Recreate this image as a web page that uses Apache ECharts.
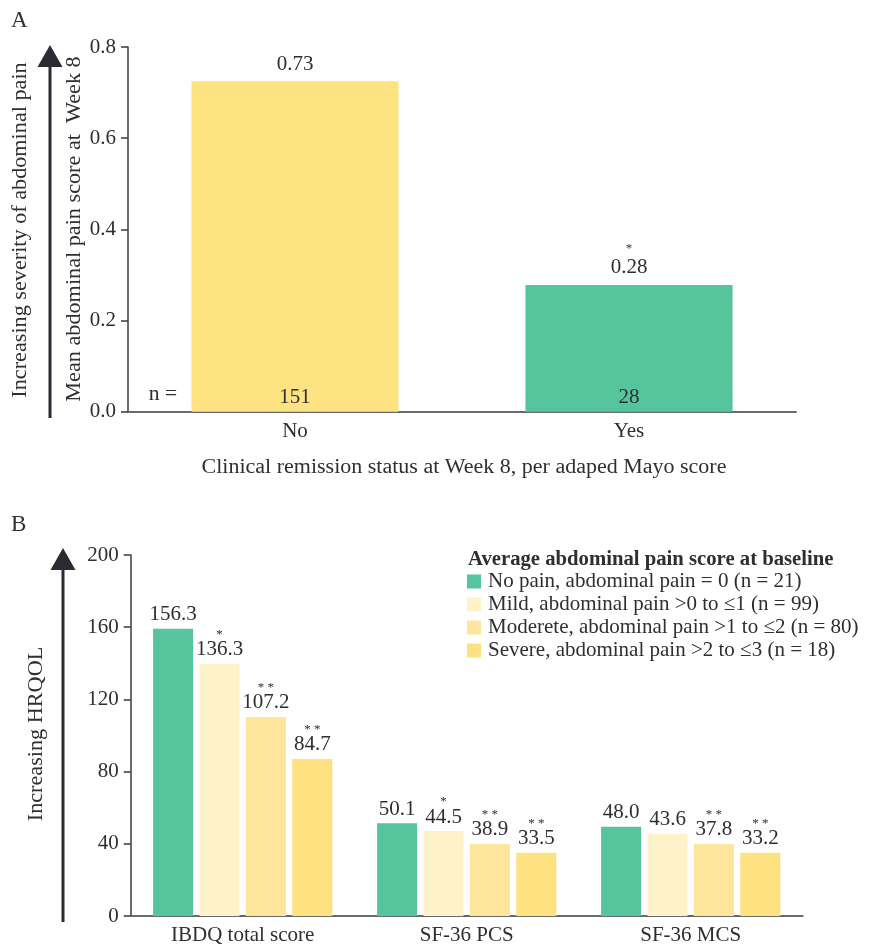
<!DOCTYPE html>
<html><head><meta charset="utf-8">
<script src="https://cdn.jsdelivr.net/npm/echarts@6/dist/echarts.min.js"></script>
<style>html,body{margin:0;padding:0;background:#fff}#c{width:883px;height:946px}</style>
</head><body><div id="c"></div>
<script>
// Panel A data
const remissionCategories = ['No', 'Yes'];
const remissionBarValues = [0.725, 0.278];
const remissionLabels = ['0.73', '0.28'];
const remissionStars = ['', '*'];
const remissionN = ['151', '28'];
const yTicksA = ['0.0', '0.2', '0.4', '0.6', '0.8'];

// Panel B data
const hrqolCategories = ['IBDQ total score', 'SF-36 PCS', 'SF-36 MCS'];
const seriesNames = [
  'No pain, abdominal pain = 0 (n = 21)',
  'Mild, abdominal pain >0 to \u22641 (n = 99)',
  'Moderete, abdominal pain >1 to \u22642 (n = 80)',
  'Severe, abdominal pain >2 to \u22643 (n = 18)'
];
const noPainValues = [159.2, 51.4, 49.5];
const mildValues = [139.7, 47.1, 45.5];
const moderateValues = [110.3, 39.9, 39.9];
const severeValues = [87.0, 35.1, 35.1];
const noPainLabels = ['156.3', '50.1', '48.0'];
const mildLabels = ['136.3', '44.5', '43.6'];
const moderateLabels = ['107.2', '38.9', '37.8'];
const severeLabels = ['84.7', '33.5', '33.2'];
const noPainStars = ['', '', ''];
const mildStars = ['*', '*', ''];
const moderateStars = ['**', '**', '**'];
const severeStars = ['**', '**', '**'];
const yTicksB = ['0', '40', '80', '120', '160', '200'];

const FONT = 'Liberation Serif';
const TXT = '#2e2e33';
const colors = ['#56C49C', '#FEF3C8', '#FDE69B', '#FEE281'];
const colorA = ['#FEE382', '#56C49C'];

const chart = echarts.init(document.getElementById('c'), null, {renderer: 'canvas'});

function starLabel(stars, labels) {
  return function (p) {
    const s = stars[p.dataIndex];
    const v = labels[p.dataIndex];
    return s ? '{s|' + s.split('').join(' ') + '}\n{v|' + v + '}' : '{v|' + v + '}';
  };
}

const bValues = [noPainValues, mildValues, moderateValues, severeValues];
const bLabels = [noPainLabels, mildLabels, moderateLabels, severeLabels];
const bStars = [noPainStars, mildStars, moderateStars, severeStars];

const seriesB = seriesNames.map((name, i) => ({
  name: name,
  type: 'bar',
  xAxisIndex: 1,
  yAxisIndex: 1,
  barWidth: 40,
  barGap: '16%',
  data: bValues[i],
  itemStyle: {color: colors[i]},
  label: {
    show: true,
    position: 'top',
    distance: 3,
    formatter: starLabel(bStars[i], bLabels[i]),
    rich: {
      s: {fontSize: 13, lineHeight: 9, color: TXT, fontFamily: FONT},
      v: {fontSize: 21, lineHeight: 22, color: TXT, fontFamily: FONT}
    }
  }
}));

const option = {
  animation: false,
  backgroundColor: '#fff',
  textStyle: {fontFamily: FONT, color: TXT},
  grid: [
    {left: 128, top: 47, width: 668, height: 364.7},
    {left: 130.7, top: 555, width: 672, height: 361}
  ],
  xAxis: [
    {
      type: 'category', gridIndex: 0, data: remissionCategories,
      axisTick: {show: false},
      axisLine: {lineStyle: {color: '#6a6a6e', width: 2}},
      axisLabel: {fontSize: 21, color: TXT, margin: 9, fontFamily: FONT}
    },
    {
      type: 'category', gridIndex: 1, data: hrqolCategories,
      axisTick: {show: false},
      axisLine: {lineStyle: {color: '#6a6a6e', width: 2}},
      axisLabel: {fontSize: 21, color: TXT, margin: 9, fontFamily: FONT}
    }
  ],
  yAxis: [
    {
      type: 'value', gridIndex: 0, min: 0, max: 0.8, interval: 0.2,
      axisLine: {show: true, lineStyle: {color: '#3a3a40', width: 1.5}},
      axisTick: {show: true, length: 7, lineStyle: {color: '#3a3a40', width: 1.5}},
      splitLine: {show: false},
      axisLabel: {fontSize: 21, color: TXT, margin: 12, fontFamily: FONT,
        formatter: (v) => yTicksA[Math.round(v / 0.2)]}
    },
    {
      type: 'value', gridIndex: 1, min: 0, max: 200, interval: 40,
      axisLine: {show: true, lineStyle: {color: '#3a3a40', width: 1.5}},
      axisTick: {show: true, length: 7, lineStyle: {color: '#3a3a40', width: 1.5}},
      splitLine: {show: false},
      axisLabel: {fontSize: 21, color: TXT, margin: 12, fontFamily: FONT,
        formatter: (v) => yTicksB[Math.round(v / 40)]}
    }
  ],
  legend: {
    orient: 'vertical',
    left: 467, top: 571,
    padding: 0,
    itemWidth: 14, itemHeight: 14, itemGap: 2,
    icon: 'rect',
    data: seriesNames,
    selectedMode: false,
    textStyle: {fontSize: 21, lineHeight: 21, color: TXT, fontFamily: FONT, padding: [0, 0, 0, 2]}
  },
  series: [
    {
      type: 'bar', xAxisIndex: 0, yAxisIndex: 0, barWidth: '62%',
      data: remissionBarValues.map((v, i) => ({value: v, itemStyle: {color: colorA[i]}})),
      label: {
        show: true, position: 'top', distance: 6,
        formatter: starLabel(remissionStars, remissionLabels),
        rich: {
          s: {fontSize: 13, lineHeight: 16, color: TXT, fontFamily: FONT},
          v: {fontSize: 21, lineHeight: 22, color: TXT, fontFamily: FONT}
        }
      }
    },
    {
      type: 'bar', xAxisIndex: 0, yAxisIndex: 0, barWidth: '62%', barGap: '-100%',
      data: remissionBarValues,
      itemStyle: {color: 'rgba(0,0,0,0)'},
      silent: true,
      label: {
        show: true, position: 'insideBottom', distance: 4,
        formatter: (p) => remissionN[p.dataIndex],
        fontSize: 21, color: TXT, fontFamily: FONT
      }
    }
  ].concat(seriesB),
  graphic: [
    {type: 'text', left: 11, top: 9, style: {text: 'A', fontSize: 23, fill: TXT, fontFamily: FONT}},
    {type: 'text', left: 11, top: 513, style: {text: 'B', fontSize: 23, fill: TXT, fontFamily: FONT}},
    // Arrow A
    {type: 'line', shape: {x1: 50, y1: 418, x2: 50, y2: 62}, style: {stroke: '#2b2b33', lineWidth: 3}},
    {type: 'polygon', shape: {points: [[37.5, 67], [62.5, 67], [50, 45]]}, style: {fill: '#2b2b33'}},
    // Arrow B
    {type: 'line', shape: {x1: 63, y1: 922, x2: 63, y2: 565}, style: {stroke: '#2b2b33', lineWidth: 3}},
    {type: 'polygon', shape: {points: [[50.5, 570], [75.5, 570], [63, 548]]}, style: {fill: '#2b2b33'}},
    // rotated titles
    {type: 'text', x: 21, y: 230, rotation: Math.PI / 2, scaleX: 1.11,
      style: {text: 'Increasing severity of abdominal pain', fontSize: 20, fill: TXT, fontFamily: FONT, align: 'center', verticalAlign: 'middle'}},
    {type: 'text', x: 75, y: 229, rotation: Math.PI / 2, scaleX: 1.11,
      style: {text: 'Mean abdominal pain score at  Week 8', fontSize: 20, fill: TXT, fontFamily: FONT, align: 'center', verticalAlign: 'middle'}},
    {type: 'text', x: 37, y: 734, rotation: Math.PI / 2, scaleX: 1.11,
      style: {text: 'Increasing HRQOL', fontSize: 20, fill: TXT, fontFamily: FONT, align: 'center', verticalAlign: 'middle'}},
    {type: 'text', x: 163, y: 395, scaleX: 1.08,
      style: {text: 'n =', fontSize: 20, fill: TXT, fontFamily: FONT, align: 'center', verticalAlign: 'middle'}},
    {type: 'text', x: 464, y: 468, scaleX: 1.1,
      style: {text: 'Clinical remission status at Week 8, per adaped Mayo score', fontSize: 20, fill: TXT, fontFamily: FONT, align: 'center', verticalAlign: 'middle'}},
    {type: 'text', x: 468, y: 560, scaleX: 1.035,
      style: {text: 'Average abdominal pain score at baseline', fontSize: 20, fontWeight: 'bold', fill: TXT, fontFamily: FONT, align: 'left', verticalAlign: 'middle'}}
  ]
};
chart.setOption(option);
</script>
</body></html>
